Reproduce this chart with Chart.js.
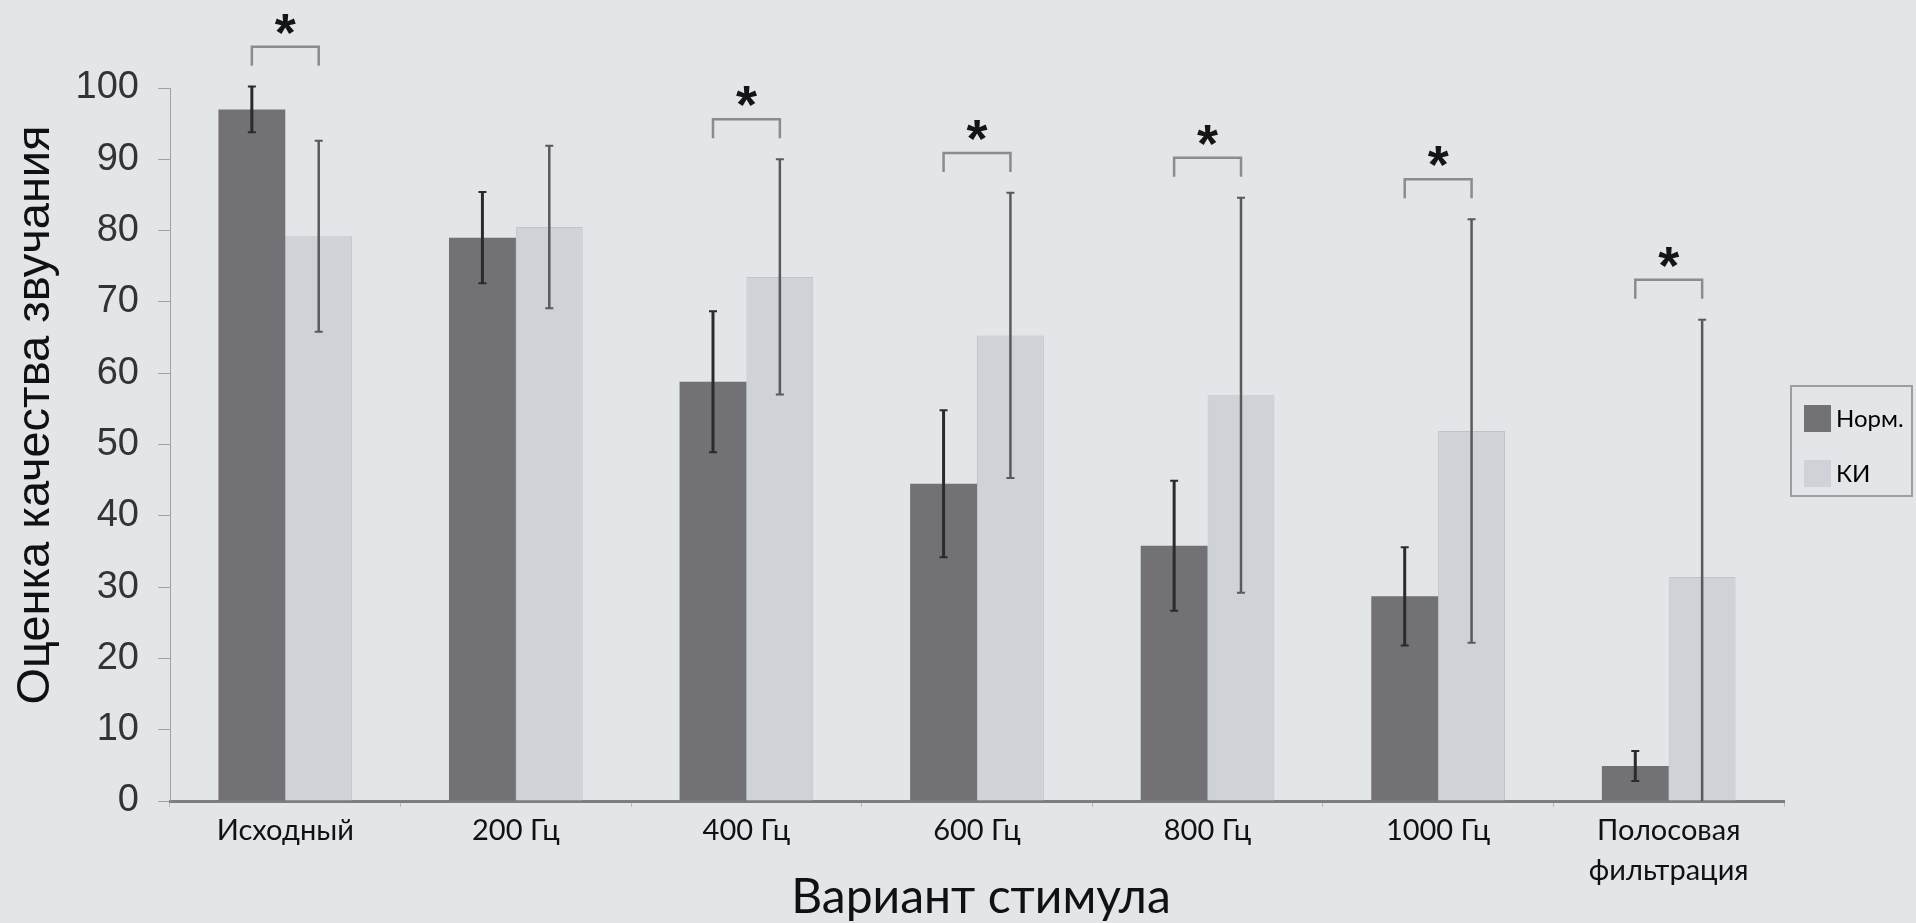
<!DOCTYPE html>
<html>
<head>
<meta charset="utf-8">
<script src="https://cdn.jsdelivr.net/npm/chart.js@4.4.1/dist/chart.umd.min.js"></script>
<style>
  html, body { margin: 0; padding: 0; background: rgb(226,230,233); }
  #wrap { width: 1916px; height: 923px; }
</style>
</head>
<body>
<div id="wrap"><canvas id="c" width="1916" height="923"></canvas></div>
<script>
// ---- data ----
const categories = ['Исходный', '200 Гц', '400 Гц', '600 Гц', '800 Гц', '1000 Гц', ['Полосовая', 'фильтрация']];
const seriesLabels = ['Норм.', 'КИ'];
const normMean = [97, 79, 58.8, 44.5, 35.8, 28.7, 4.9];
const normErr  = [3.2, 6.4, 9.9, 10.3, 9.1, 6.9, 2.1];
const kiMean   = [79.2, 80.5, 73.5, 65.3, 56.9, 51.9, 31.4];
const kiErr    = [13.4, 11.4, 16.5, 20.0, 27.7, 29.7, 36.1];
const significant = [true, false, true, true, true, true, true];
const yMin = 0, yMax = 100, yStep = 10;
const xTitle = 'Вариант стимула';
const yTitle = 'Оценка качества звучания';

const BG = 'rgb(226,230,233)';
const DARK = 'rgb(114,114,118)';
const LIGHT = 'rgb(207,210,214)';

const errors = [normErr, kiErr];
const errStyles = [
  { color: '#2b2b2b', width: 3 },
  { color: '#5a5a5a', width: 2.5 }
];

const decorPlugin = {
  id: 'decor',
  beforeDraw(chart) {
    const ctx = chart.ctx;
    ctx.save();
    ctx.fillStyle = BG;
    ctx.fillRect(0, 0, chart.width, chart.height);
    ctx.restore();
  },
  afterDatasetsDraw(chart) {
    const ctx = chart.ctx;
    const y = chart.scales.y;
    const metas = [chart.getDatasetMeta(0), chart.getDatasetMeta(1)];
    ctx.save();
    // error bars
    metas.forEach((meta, di) => {
      const ds = chart.data.datasets[di];
      meta.data.forEach((el, i) => {
        const m = ds.data[i], e = errors[di][i];
        const yt = y.getPixelForValue(m + e);
        const yb = y.getPixelForValue(Math.max(yMin, m - e));
        ctx.strokeStyle = errStyles[di].color;
        ctx.lineWidth = errStyles[di].width;
        ctx.beginPath();
        ctx.moveTo(el.x, yt); ctx.lineTo(el.x, yb);
        ctx.stroke();
        ctx.lineWidth = 2;
        ctx.beginPath();
        ctx.moveTo(el.x - 4, yt); ctx.lineTo(el.x + 4, yt);
        if (m - e > yMin) { ctx.moveTo(el.x - 4, yb); ctx.lineTo(el.x + 4, yb); }
        ctx.stroke();
      });
    });
    // significance brackets
    significant.forEach((s, i) => {
      if (!s) return;
      const x1 = metas[0].data[i].x, x2 = metas[1].data[i].x;
      const top = Math.max(normMean[i] + normErr[i], kiMean[i] + kiErr[i]) + 5.6;
      const yt = y.getPixelForValue(top);
      ctx.strokeStyle = '#8a8c8f';
      ctx.lineWidth = 2.5;
      ctx.beginPath();
      ctx.moveTo(x1, yt + 19); ctx.lineTo(x1, yt); ctx.lineTo(x2, yt); ctx.lineTo(x2, yt + 19);
      ctx.stroke();
      ctx.fillStyle = '#151515';
      ctx.font = 'bold 54px "Liberation Sans", Arial, sans-serif';
      ctx.textAlign = 'center';
      ctx.textBaseline = 'alphabetic';
      ctx.fillText('*', (x1 + x2) / 2, yt + 4);
    });
    ctx.restore();
  },
  afterDraw(chart) {
    const ctx = chart.ctx;
    ctx.save();
    // axis titles
    ctx.fillStyle = '#111';
    ctx.textAlign = 'center';
    ctx.textBaseline = 'middle';
    ctx.font = '48px Lato, sans-serif';
    ctx.fillText(xTitle, 981, 898);
    ctx.translate(36, 415);
    ctx.rotate(-Math.PI / 2);
    ctx.font = '47px "Liberation Sans", Arial, sans-serif';
    ctx.fillText(yTitle, 0, 0);
    ctx.restore();
    // legend
    ctx.save();
    ctx.strokeStyle = '#9c9ea1';
    ctx.lineWidth = 2;
    ctx.strokeRect(1791, 386, 121, 110);
    const items = chart.data.datasets;
    const ys = [418, 473];
    items.forEach((ds, i) => {
      ctx.fillStyle = ds.backgroundColor;
      ctx.fillRect(1804, ys[i] - 13, 27, 27);
      ctx.fillStyle = '#000';
      ctx.font = '24px Lato, sans-serif';
      ctx.textAlign = 'left';
      ctx.textBaseline = 'middle';
      ctx.fillText(ds.label, 1836, ys[i] + 1);
    });
    ctx.restore();
  }
};

new Chart(document.getElementById('c'), {
  type: 'bar',
  data: {
    labels: categories,
    datasets: [
      { label: seriesLabels[0], data: normMean, backgroundColor: DARK, borderWidth: 0 },
      { label: seriesLabels[1], data: kiMean, backgroundColor: LIGHT, borderColor: 'rgb(192,195,199)', borderWidth: 1 }
    ]
  },
  options: {
    responsive: false,
    animation: false,
    devicePixelRatio: 1,
    layout: { padding: { left: 0, right: 132, top: 88, bottom: 0 } },
    plugins: { legend: { display: false }, tooltip: { enabled: false } },
    datasets: { bar: { categoryPercentage: 0.58, barPercentage: 1.0 } },
    scales: {
      x: {
        afterFit(s) { s.height = 122; },
        grid: { drawOnChartArea: false, tickLength: 6, color: '#b8bbbe', offset: true },
        border: { color: '#7c7e81', width: 3 },
        ticks: { color: '#111', padding: 4, maxRotation: 0, autoSkip: false,
                 font: { family: 'Lato, sans-serif', size: 29, lineHeight: 1.36 } }
      },
      y: {
        min: yMin, max: yMax,
        afterFit(s) { s.width = 170; },
        grid: { drawOnChartArea: false, tickLength: 12, color: '#a0a2a5' },
        border: { color: '#a0a2a5', width: 1 },
        ticks: { stepSize: yStep, color: '#333', padding: 19,
                 font: { family: '"Liberation Sans", Arial, sans-serif', size: 38 } }
      }
    }
  },
  plugins: [decorPlugin]
});
</script>
</body>
</html>
